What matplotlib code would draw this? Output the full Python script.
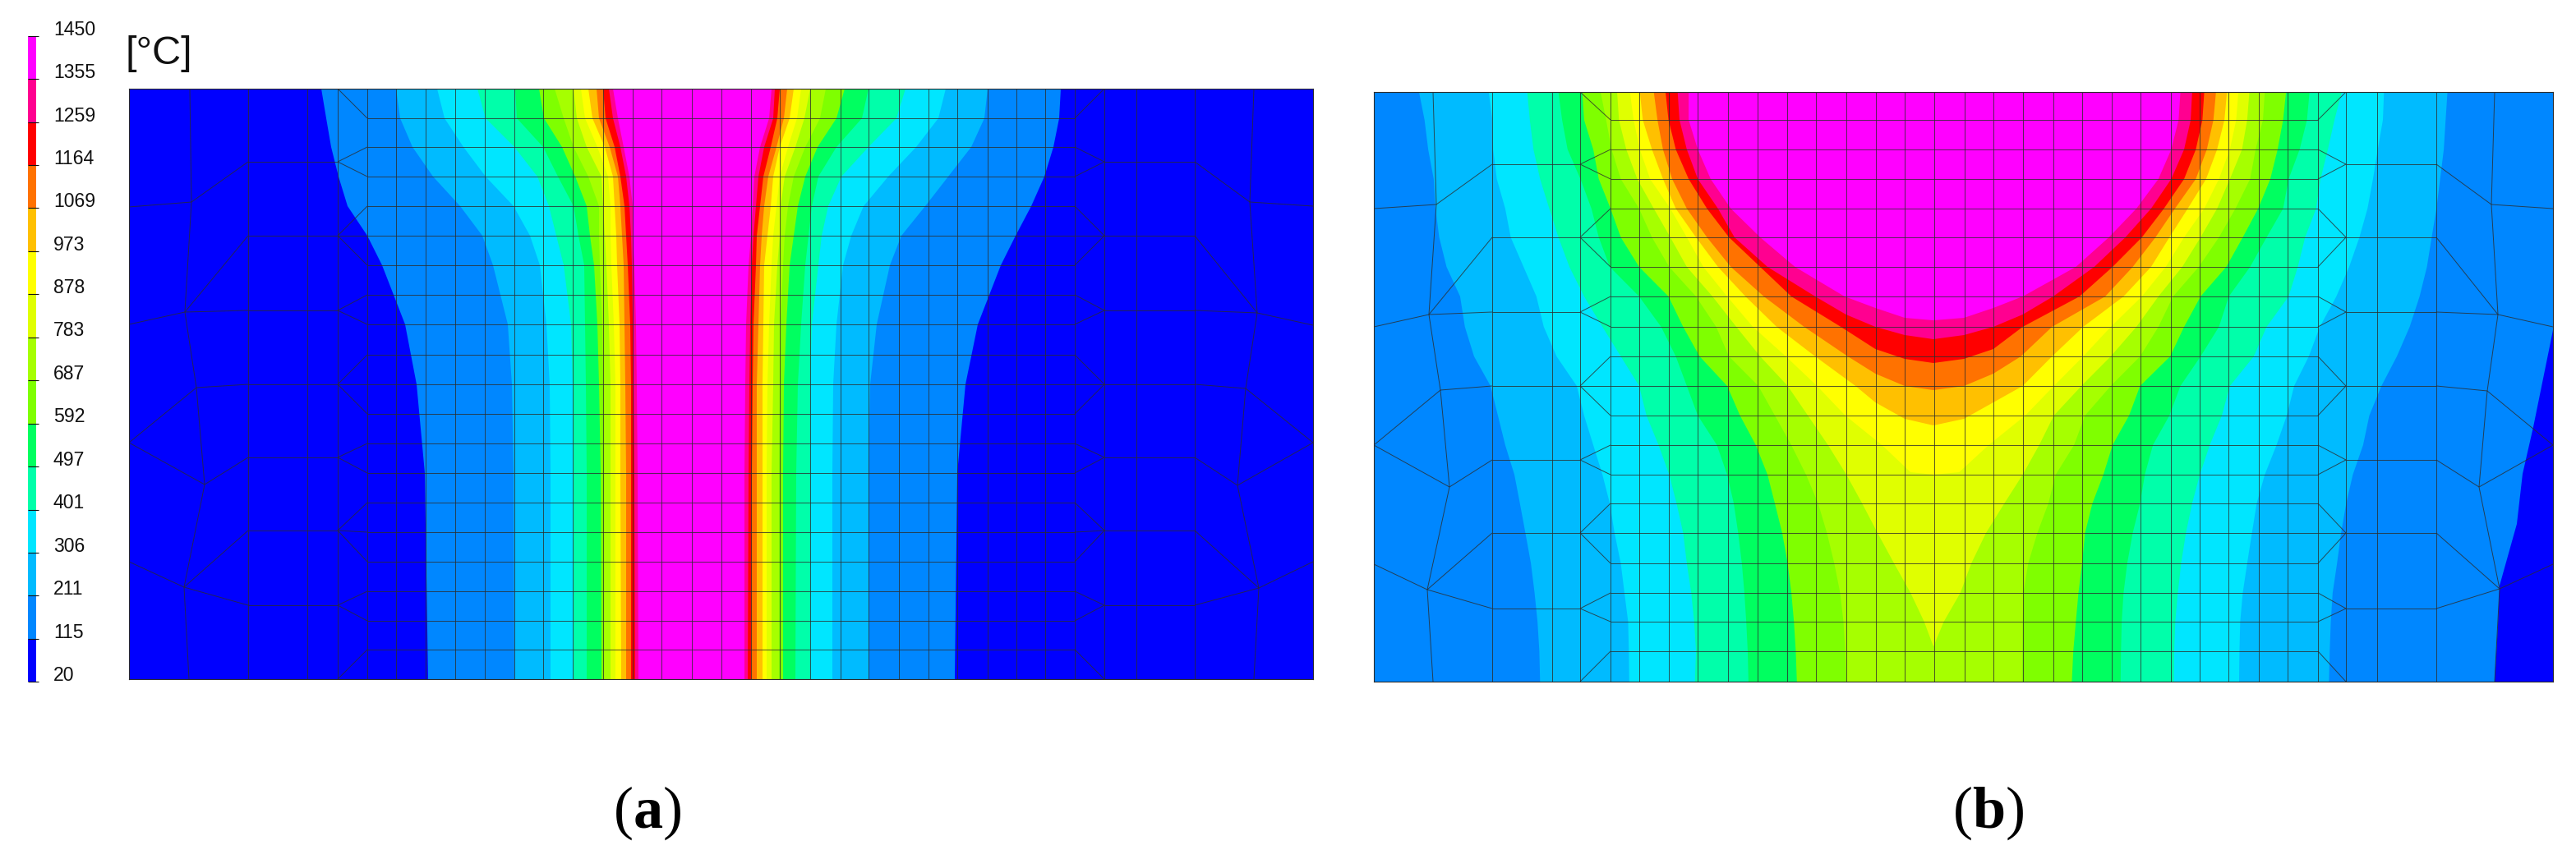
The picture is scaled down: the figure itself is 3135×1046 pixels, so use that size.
#!/usr/bin/env python3
"""Temperature fields of two welds, contour bands plus the FE mesh on top.

Everything was read off the reference. Panel (a) values are picture pixels,
panel (b) x values are as read from crops (1/2.24 scale, see bx_left/bx_right).
"""

import matplotlib
matplotlib.use("Agg")
import matplotlib.pyplot as plt
import numpy as np
from matplotlib.colors import BoundaryNorm, ListedColormap

W, H = 3135, 1046

LEVELS = [20, 115, 211, 306, 401, 497, 592, 687, 783, 878, 973, 1069, 1164, 1259, 1355, 1450]
BAND_COLORS = [
    "#0000ff", "#0087ff", "#00bbff", "#00e6ff", "#00ffaa", "#00ff60", "#7fff00", "#a6ff00",
    "#e0ff00", "#ffff00", "#ffc000", "#ff7200", "#ff0000", "#ff0090", "#ff00ff",
]
MESH = "#2c2c2c"

# ---------------------------------------------------------------- panel (a) bands

YA = [108, 144, 179, 215, 251, 287, 323, 395, 468, 576, 827]
A_LEFT = {
    115: [391, 397, 403, 412, 423, 447, 465, 493, 507, 517, 521],
    211: [482, 487, 502, 527, 560, 587, 600, 618, 623, 625, 626],
    306: [532, 541, 564, 591, 625, 645, 657, 665, 669, 670, 670],
    401: [581, 591, 626, 654, 668, 677, 686, 695, 697, 698, 698],
    497: [627, 629, 661, 679, 698, 704, 711, 712, 713, 714, 714],
    592: [656, 662, 684, 700, 714, 718, 723, 727, 729, 731, 732],
    687: [675, 686, 698, 716, 729, 729, 730, 733, 734, 735, 735],
    783: [698, 702, 714, 732, 734, 736, 738, 741, 743, 743, 743],
    878: [707, 712, 727, 740, 743, 743, 744, 747, 749, 749, 749],
    973: [716, 721, 736, 746, 748, 750, 751, 754, 755, 755, 756],
    1069: [726, 729, 742, 752, 755, 757, 759, 760, 761, 762, 762],
    1164: [734, 737, 748, 755, 760, 762, 764, 767, 768, 768, 768],
    1259: [741, 746, 755, 762, 766, 768, 769, 770, 771, 772, 773],
    1355: [746, 752, 759, 766, 770, 770, 772, 774, 775, 776, 777],
}
A_RIGHT = {
    115: [1291, 1289, 1282, 1271, 1255, 1236, 1218, 1190, 1175, 1165, 1162],
    211: [1202, 1198, 1182, 1154, 1126, 1097, 1083, 1067, 1059, 1057, 1057],
    306: [1151, 1142, 1115, 1081, 1051, 1036, 1026, 1018, 1014, 1013, 1013],
    401: [1102, 1091, 1057, 1024, 1008, 1000, 996, 988, 986, 986, 986],
    497: [1057, 1049, 1018, 996, 988, 984, 980, 975, 971, 969, 968],
    592: [1028, 1018, 995, 980, 971, 966, 961, 957, 954, 953, 953],
    687: [1005, 998, 980, 966, 959, 955, 953, 950, 949, 948, 948],
    783: [986, 979, 968, 955, 950, 949, 946, 942, 941, 939, 939],
    878: [975, 970, 959, 949, 945, 941, 939, 936, 934, 933, 933],
    973: [966, 961, 949, 941, 938, 934, 930, 929, 928, 928, 928],
    1069: [958, 954, 945, 935, 930, 927, 925, 923, 921, 921, 921],
    1164: [949, 946, 938, 929, 925, 921, 920, 917, 916, 915, 914],
    1259: [943, 941, 930, 923, 920, 917, 915, 913, 912, 911, 910],
    1355: [939, 936, 925, 918, 916, 914, 911, 908, 907, 906, 906],
}

# ---------------------------------------------------------------- panel (b) bands

YB = [112, 146, 182, 218, 254, 289, 325, 361, 398, 434, 470,
      506, 542, 578, 613, 649, 686, 722, 757, 793, 830]

# levels up to 687 reach the bottom edge, the hotter ones close around the centre,
# so those carry extra points (B_TAIL_Y) below the last mesh row they cross
B_LEFT = {
    211: [150, 165, 175, 190, 195, 205, 225, 262, 275, 300, 345, 365, 385, 410, 425, 440, 455, 465, 473, 478, 480],
    306: [340, 350, 352, 362, 385, 400, 435, 470, 490, 525, 580, 600, 625, 650, 670, 683, 700, 710, 720, 722, 723],
    401: [445, 452, 462, 480, 505, 530, 560, 600, 650, 700, 750, 770, 803, 832, 852, 870, 880, 892, 900, 905, 902],
    497: [530, 540, 555, 590, 620, 640, 670, 750, 810, 850, 880, 910, 962, 990, 1008, 1020, 1030, 1037, 1042, 1046, 1048],
    592: [595, 600, 625, 640, 672, 700, 750, 830, 870, 915, 990, 1025, 1068, 1100, 1120, 1140, 1155, 1165, 1172, 1177, 1180],
    687: [645, 660, 675, 700, 750, 785, 832, 905, 960, 995, 1075, 1120, 1165, 1205, 1238, 1262, 1282, 1298, 1307, 1312, 1315],
    783: [690, 695, 715, 745, 790, 835, 880, 950, 1015, 1080, 1155, 1210, 1265, 1315, 1358, 1400, 1445, 1490, 1527, 1552],
    878: [725, 735, 752, 780, 835, 880, 925, 990, 1060, 1150, 1235, 1312, 1412, 1490, 1552],
    973: [752, 760, 785, 815, 850, 905, 965, 1040, 1125, 1230, 1340, 1394, 1474, 1552],
    1069: [790, 800, 815, 840, 880, 935, 1000, 1090, 1200, 1319, 1394, 1474, 1552],
    1164: [822, 830, 850, 885, 935, 995, 1080, 1165, 1300, 1394, 1474, 1552],
    1259: [855, 860, 880, 910, 965, 1010, 1100, 1230, 1314, 1394, 1474, 1552],
    1355: [885, 885, 910, 945, 1000, 1080, 1175, 1310, 1394, 1474, 1552],
}
B_RIGHT = {
    211: [1408, 1403, 1398, 1388, 1378, 1365, 1352, 1332, 1305, 1270, 1228, 1195, 1178, 1150, 1132, 1118, 1107, 1095, 1090, 1087, 1085],
    306: [1235, 1232, 1218, 1205, 1190, 1168, 1140, 1105, 1060, 1030, 990, 970, 942, 910, 888, 875, 862, 850, 843, 841, 840],
    401: [1120, 1100, 1082, 1062, 1050, 1020, 1000, 975, 915, 880, 815, 793, 760, 733, 712, 695, 682, 673, 666, 663, 662],
    497: [1032, 1025, 1005, 975, 960, 915, 870, 812, 785, 735, 680, 650, 605, 583, 570, 550, 535, 525, 520, 518, 517],
    592: [968, 960, 945, 925, 892, 850, 805, 735, 690, 652, 570, 540, 495, 470, 440, 420, 412, 402, 395, 388, 384],
    687: [910, 905, 885, 870, 830, 785, 730, 660, 620, 570, 490, 420, 390, 340, 320, 290, 265, 252, 250, 249, 248],
    783: [868, 862, 848, 815, 780, 735, 685, 620, 560, 490, 410, 335, 295, 250, 200, 150, 110, 80, 35, 7],
    878: [838, 832, 815, 785, 745, 690, 640, 575, 490, 415, 335, 257, 157, 77, 7],
    973: [807, 800, 780, 750, 700, 650, 600, 525, 415, 330, 250, 170, 90, 7],
    1069: [777, 770, 752, 722, 665, 612, 550, 475, 330, 245, 170, 90, 7],
    1164: [745, 740, 722, 690, 635, 575, 495, 405, 250, 170, 90, 7],
    1259: [712, 708, 690, 655, 600, 530, 445, 333, 250, 170, 90, 7],
    1355: [680, 675, 655, 620, 560, 485, 395, 250, 170, 90, 7],
}
B_TAIL_Y = {
    783: [787],
    878: [575, 578],
    973: [490, 510, 518],
    1069: [455, 470, 475],
    1164: [425, 437, 442],
    1259: [383, 398, 408, 413],
    1355: [375, 387, 390],
}

# the small 20-115 patch in the lower right corner of (b)
B_COLD_X = [3107, 3083, 3070, 3063, 3042, 3040, 3036, 3107]
B_COLD_Y = [402, 520, 577, 638, 713, 761, 830, 830]

# ---------------------------------------------------------------- meshes

A_FINE_X = [447, 482, 518, 554, 590, 626, 661, 697, 734, 770, 805, 842, 877.5, 914, 949, 986,
            1022.5, 1057, 1094, 1130, 1165, 1202, 1236.5, 1272, 1308]
A_ROWS = [108, 144, 179, 215, 251, 287, 323, 359, 395, 432, 468,
          504, 540, 576, 612, 648, 684, 720, 756, 791, 827]
A_COARSE_L = [411, 374, 302]
A_COARSE_R = [1344, 1383, 1454]
A_COARSE_Y = [197, 287, 378, 468, 557, 646, 737]
A_NODES_L = [(231, 108), (233, 246), (225, 380), (239, 472), (249, 590), (224, 715), (230, 827)]
A_NODES_R = [(1526, 108), (1521, 246), (1530, 381), (1516, 473), (1506, 591), (1532, 716), (1526, 827)]
A_EDGE_L = [252, 395, 539, 684]
A_EDGE_R = [251, 396, 539, 684]

B_FINE_X = [1960, 1995, 2031, 2066, 2103, 2139, 2175, 2210, 2247, 2283, 2318, 2354, 2391, 2426,
            2462, 2499, 2534, 2570, 2605, 2642, 2677, 2712, 2749, 2784, 2821]
B_COARSE_L = [1923, 1889, 1816]
B_COARSE_R = [2855, 2893, 2965]
B_COARSE_Y = [200, 289, 380, 470, 560, 649, 741]
B_NODES_L = [(1744, 112), (1748, 249), (1739, 383), (1753, 475), (1764, 593), (1737, 718), (1744, 830)]
B_NODES_R = [(3036, 112), (3032, 249), (3040, 383), (3027, 476), (3017, 593), (3042, 717), (3036, 830)]
B_EDGE_L = [254, 398, 542, 687]
B_EDGE_R = [254, 398, 542, 687]

# coarse node (top, coarse_y..., bottom) -> fine rows it fans out to
FAN_ROWS = [[1], [2, 3], [4, 5, 6], [7, 8], [9, 10, 11], [12, 13], [14, 15, 16], [17, 18], [19]]
# wobbly node -> coarse row, wobbly node -> point on the panel edge
NODE_TO_COARSE = [(0, 0), (1, 1), (1, 2), (2, 3), (3, 4), (4, 5), (4, 6)]
NODE_TO_EDGE = [(0, 0), (1, 1), (2, 2), (3, 2), (4, 3)]


def bx_left(vals):
    return 1660 + np.asarray(vals, dtype=float) / 2.24


def bx_right(vals):
    return 2350 + np.asarray(vals, dtype=float) / 2.24


def panel_axes(fig, x0, x1, y0, y1):
    ax = fig.add_axes([x0 / W, 1 - y1 / H, (x1 - x0) / W, (y1 - y0) / H])
    ax.set_xlim(x0, x1)
    ax.set_ylim(y1, y0)
    ax.set_xticks([])
    ax.set_yticks([])
    for spine in ax.spines.values():
        spine.set_color(MESH)
        spine.set_linewidth(0.8)
    return ax


def band(level):
    return BAND_COLORS[LEVELS.index(level)]


def draw_bands_a(ax):
    ax.set_facecolor(BAND_COLORS[0])
    y = np.array(YA)
    for level, left in A_LEFT.items():
        right = np.array(A_RIGHT[level])
        ax.fill(np.r_[left, right[::-1]], np.r_[y, y[::-1]], color=band(level), lw=0)


def draw_bands_b(ax):
    ax.set_facecolor(BAND_COLORS[1])
    ax.fill(B_COLD_X, B_COLD_Y, color=BAND_COLORS[0], lw=0)
    for level, left in B_LEFT.items():
        right = B_RIGHT[level]
        tail = B_TAIL_Y.get(level, [])
        yl = YB[:len(left) - len(tail)] + tail
        yr = YB[:len(right) - len(tail)] + tail
        xs = np.r_[bx_left(left), bx_right(right)[::-1]]
        ax.fill(xs, yl + yr[::-1], color=band(level), lw=0)


def seg(ax, xs, ys):
    ax.plot(xs, ys, color=MESH, lw=0.7, alpha=0.8, solid_capstyle="butt", zorder=3)


def mesh_side(ax, coarse_x, fine_x, nodes, edge_x, edge_y, coarse_y, rows):
    fan_x, outer_x = coarse_x[0], coarse_x[-1]
    fan_nodes = [rows[0]] + coarse_y + [rows[-1]]
    for node_y, targets in zip(fan_nodes, FAN_ROWS):
        for r in targets:
            seg(ax, [fan_x, fine_x], [node_y, rows[r]])
    for x in coarse_x:
        seg(ax, [x, x], [rows[0], rows[-1]])
    for y in coarse_y:
        seg(ax, [outer_x, fan_x], [y, y])
    seg(ax, [n[0] for n in nodes], [n[1] for n in nodes])
    inner = nodes[1:-1]
    for i, c in NODE_TO_COARSE:
        seg(ax, [outer_x, inner[i][0]], [coarse_y[c], inner[i][1]])
    for i, e in NODE_TO_EDGE:
        seg(ax, [edge_x, inner[i][0]], [edge_y[e], inner[i][1]])


def draw_mesh(ax, fine_x, rows, coarse_l, coarse_r, coarse_y, nodes_l, nodes_r, edge_l, edge_r, x0, x1):
    for x in fine_x:
        seg(ax, [x, x], [rows[0], rows[-1]])
    for y in rows[1:-1]:
        seg(ax, [fine_x[0], fine_x[-1]], [y, y])
    mesh_side(ax, coarse_l, fine_x[0], nodes_l, x0, edge_l, coarse_y, rows)
    mesh_side(ax, coarse_r, fine_x[-1], nodes_r, x1, edge_r, coarse_y, rows)


def draw_scale(fig):
    ax = fig.add_axes([34 / W, 1 - 830 / H, 14 / W, 786 / H])
    cmap = ListedColormap(BAND_COLORS)
    norm = BoundaryNorm(LEVELS, cmap.N)
    mids = (np.array(LEVELS[:-1]) + np.array(LEVELS[1:])) / 2
    ax.pcolormesh([0, 1], LEVELS, mids.reshape(-1, 1), cmap=cmap, norm=norm)
    ax.set_ylim(LEVELS[0], LEVELS[-1])
    ax.set_xticks([])
    ax.set_yticks([])
    for spine in ax.spines.values():
        spine.set_visible(False)
    ax.hlines(LEVELS, 0, 1.29, color="#111111", lw=0.8, clip_on=False)
    for level in LEVELS:
        ax.annotate(str(level), xy=(1, level), xycoords=("axes fraction", "data"),
                    xytext=(12.2, 5.6), textcoords="offset points", va="center", ha="left",
                    fontsize=16.6, family="Liberation Sans", color="#111111",
                    annotation_clip=False)


def main():
    plt.rcParams["mathtext.fontset"] = "custom"
    plt.rcParams["mathtext.rm"] = "Liberation Serif"
    plt.rcParams["mathtext.bf"] = "Liberation Serif:bold"

    fig = plt.figure(figsize=(W / 100, H / 100), dpi=100, facecolor="white")
    draw_scale(fig)

    ax_a = panel_axes(fig, 157, 1598, 108, 827)
    draw_bands_a(ax_a)
    draw_mesh(ax_a, A_FINE_X, A_ROWS, A_COARSE_L, A_COARSE_R, A_COARSE_Y,
              A_NODES_L, A_NODES_R, A_EDGE_L, A_EDGE_R, 157, 1598)

    ax_b = panel_axes(fig, 1672, 3107, 112, 830)
    draw_bands_b(ax_b)
    draw_mesh(ax_b, B_FINE_X, YB, B_COARSE_L, B_COARSE_R, B_COARSE_Y,
              B_NODES_L, B_NODES_R, B_EDGE_L, B_EDGE_R, 1672, 3107)

    fig.text(153 / W, 1 - 78 / H, "[°C]", fontsize=35, family="Liberation Sans",
             ha="left", va="baseline", color="#111111")
    for label, x in (("a", 788), ("b", 2420)):
        fig.text(x / W, 1 - 1008 / H, rf"$\mathrm{{(}}\mathbf{{{label}}}\mathrm{{)}}$",
                 fontsize=52, ha="center", va="baseline", color="black")

    fig.savefig("out.png", dpi=100, facecolor="white")
    plt.close(fig)


if __name__ == "__main__":
    main()
